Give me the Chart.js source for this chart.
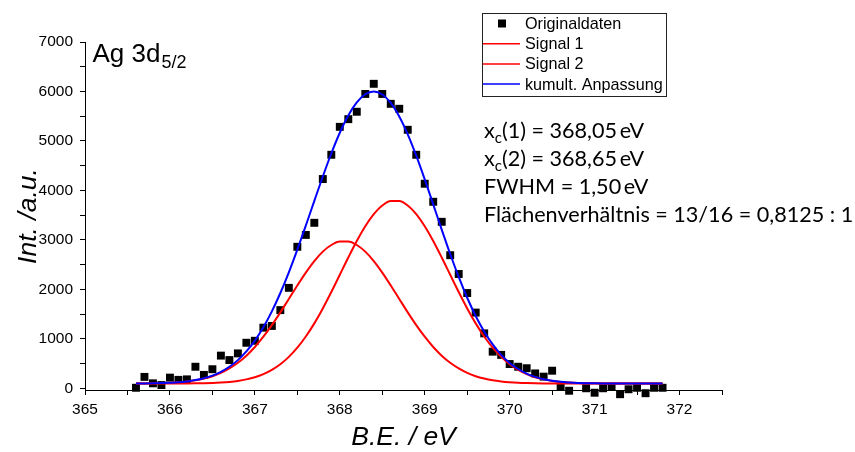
<!DOCTYPE html>
<html>
<head>
<meta charset="utf-8">
<script src="https://cdn.jsdelivr.net/npm/chart.js@4.4.1/dist/chart.umd.min.js"></script>
<style>
  html, body { margin: 0; padding: 0; background: #fff; }
</style>
</head>
<body>
<canvas id="xps" width="855" height="452"></canvas>
<script>
// binding energy grid (eV)
const energy = [365.6, 365.7, 365.8, 365.9, 366.0, 366.1, 366.2, 366.3, 366.4, 366.5,
  366.6, 366.7, 366.8, 366.9, 367.0, 367.1, 367.2, 367.3, 367.4, 367.5,
  367.6, 367.7, 367.8, 367.9, 368.0, 368.1, 368.2, 368.3, 368.4, 368.5,
  368.6, 368.7, 368.8, 368.9, 369.0, 369.1, 369.2, 369.3, 369.4, 369.5,
  369.6, 369.7, 369.8, 369.9, 370.0, 370.1, 370.2, 370.3, 370.4, 370.5,
  370.6, 370.7, 370.8, 370.9, 371.0, 371.1, 371.2, 371.3, 371.4, 371.5,
  371.6, 371.7, 371.8];

// measured intensity
const counts = [10, 230, 100, 65, 215, 170, 180, 435, 270, 385,
  660, 570, 705, 920, 960, 1225, 1260, 1580, 2030, 2860,
  3100, 3345, 4230, 4720, 5285, 5440, 5590, 5950, 6155, 5950,
  5750, 5650, 5225, 4720, 4135, 3770, 3365, 2690, 2310, 1925,
  1530, 1110, 740, 675, 490, 435, 405, 300, 235, 355,
  30, -50, -170, 0, -90, 0, 30, -120, -20, 10,
  -100, 10, 10];

// fitted components
const signal1 = [97, 98, 101, 105, 111, 121, 137, 161, 196, 244,
  311, 400, 515, 659, 835, 1042, 1277, 1535, 1806, 2079,
  2339, 2572, 2762, 2896, 2966, 2966, 2896, 2762, 2572, 2339,
  2079, 1806, 1535, 1277, 1042, 835, 659, 515, 400, 311,
  244, 196, 161, 137, 121, 111, 105, 101, 98, 97,
  96, 96, 95, 95, 95, 95, 95, 95, 95, 95,
  95, 95, 95];

const signal2 = [95, 95, 95, 95, 96, 96, 97, 99, 102, 107,
  116, 129, 149, 180, 224, 287, 373, 486, 634, 820,
  1046, 1312, 1614, 1945, 2294, 2644, 2978, 3277, 3521, 3694,
  3784, 3784, 3694, 3521, 3277, 2978, 2644, 2294, 1945, 1614,
  1312, 1046, 820, 634, 486, 373, 287, 224, 180, 149,
  129, 116, 107, 102, 99, 97, 96, 96, 95, 95,
  95, 95, 95];

const fitSum = [97, 98, 101, 105, 112, 122, 139, 165, 203, 256,
  332, 434, 569, 744, 964, 1234, 1555, 1926, 2345, 2804,
  3290, 3789, 4281, 4746, 5165, 5515, 5779, 5944, 5998, 5938,
  5768, 5495, 5134, 4703, 4224, 3718, 3208, 2714, 2250, 1830,
  1461, 1147, 886, 676, 512, 389, 297, 230, 183, 151,
  130, 117, 107, 102, 99, 97, 96, 96, 95, 95,
  95, 95, 95];

// labelled ticks, plus unlabelled minor ticks between them
const xTickLabels = [365, 366, 367, 368, 369, 370, 371, 372];
const xMinorTicks = [365.5, 366.5, 367.5, 368.5, 369.5, 370.5, 371.5, 372.5];
const yTickLabels = [0, 1000, 2000, 3000, 4000, 5000, 6000, 7000];
const yMinorTicks = [500, 1500, 2500, 3500, 4500, 5500, 6500];

const SANS = '"Liberation Sans", Arial, sans-serif';
const TEXT2 = 'Lato, "Open Sans", sans-serif';

function pts(ys) {
  return energy.map((x, i) => ({ x: x, y: ys[i] }));
}

function tickList(major, minor) {
  return major.concat(minor).sort((a, b) => a - b).map(v => ({ value: v }));
}

// legend box + annotations drawn on top of the plot
const overlay = {
  id: 'overlay',
  afterDraw(chart) {
    const ctx = chart.ctx;
    ctx.save();

    // legend
    ctx.strokeStyle = '#222';
    ctx.lineWidth = 1;
    ctx.strokeRect(482.5, 13.5, 184, 83);
    ctx.font = '16.2px ' + SANS;
    ctx.textBaseline = 'middle';
    ctx.textAlign = 'left';
    chart.data.datasets.forEach((ds, i) => {
      const y = 23.5 + i * 20.2;
      if (ds.showLine === false) {
        ctx.fillStyle = ds.backgroundColor;
        ctx.fillRect(498, y - 4, 8, 8);
      } else {
        ctx.strokeStyle = ds.borderColor;
        ctx.lineWidth = 1.5;
        ctx.beginPath();
        ctx.moveTo(483, y);
        ctx.lineTo(520, y);
        ctx.stroke();
      }
      ctx.fillStyle = '#000';
      ctx.fillText(ds.label, 525, y + 1);
    });

    // peak label
    ctx.textBaseline = 'alphabetic';
    ctx.fillStyle = '#000';
    ctx.font = '26px ' + SANS;
    ctx.fillText('Ag 3d', 92.5, 61.5);
    const w = ctx.measureText('Ag 3d').width;
    ctx.font = '18px ' + SANS;
    ctx.fillText('5/2', 92.5 + w + 1, 67.5);

    // fit parameters
    const lines = [
      [['x', 0], ['c', 1], ['(1) = 368,05\u2009eV', 0]],
      [['x', 0], ['c', 1], ['(2) = 368,65\u2009eV', 0]],
      [['FWHM = 1,50\u2009eV', 0]],
      [['Flächenverhältnis = 13/16 = 0,8125 : 1', 0]]
    ];
    lines.forEach((parts, i) => {
      let x = 484;
      const y = 137.5 + i * 28.2;
      parts.forEach(([t, sub]) => {
        ctx.font = (sub ? '15px ' : '21.6px ') + TEXT2;
        ctx.fillText(t, x, sub ? y + 5 : y);
        x += ctx.measureText(t).width;
      });
    });
    ctx.restore();
  }
};

new Chart(document.getElementById('xps'), {
  type: 'scatter',
  data: {
    datasets: [
      {
        label: 'Originaldaten',
        data: pts(counts),
        showLine: false,
        pointStyle: 'rect',
        pointRadius: 5.6,
        pointBorderWidth: 0,
        backgroundColor: '#000',
        borderColor: '#000',
        clip: false,
        order: 4
      },
      {
        label: 'Signal 1',
        data: pts(signal1),
        showLine: true,
        borderColor: '#ff0000',
        borderWidth: 2,
        pointRadius: 0,
        cubicInterpolationMode: 'monotone',
        order: 3
      },
      {
        label: 'Signal 2',
        data: pts(signal2),
        showLine: true,
        borderColor: '#ff0000',
        borderWidth: 2,
        pointRadius: 0,
        cubicInterpolationMode: 'monotone',
        order: 2
      },
      {
        label: 'kumult. Anpassung',
        data: pts(fitSum),
        showLine: true,
        borderColor: '#0000ff',
        borderWidth: 2,
        pointRadius: 0,
        cubicInterpolationMode: 'monotone',
        order: 1
      }
    ]
  },
  options: {
    responsive: false,
    animation: false,
    layout: { padding: { top: 42, right: 133, bottom: 0, left: 0 } },
    plugins: {
      legend: { display: false },
      tooltip: { enabled: false }
    },
    scales: {
      x: {
        type: 'linear',
        min: 365,
        max: 372.5,
        border: { color: '#000', width: 1 },
        grid: { drawOnChartArea: false, tickLength: 5, tickColor: '#000' },
        afterBuildTicks: s => { s.ticks = tickList(xTickLabels, xMinorTicks); },
        ticks: {
          autoSkip: false,
          maxRotation: 0,
          padding: 5,
          color: '#000',
          font: { family: SANS, size: 15.5 },
          callback: v => xTickLabels.includes(v) ? String(v) : ''
        },
        title: {
          display: true,
          text: 'B.E. / eV',
          color: '#000',
          font: { family: SANS, size: 26.5, style: 'italic', lineHeight: 1 },
          padding: { top: 0, bottom: 1 }
        },
        afterFit: s => { s.height = 62; }
      },
      y: {
        type: 'linear',
        min: -35,
        max: 7000,
        border: { color: '#000', width: 1 },
        grid: { drawOnChartArea: false, tickLength: 5, tickColor: '#000' },
        afterBuildTicks: s => { s.ticks = tickList(yTickLabels, yMinorTicks); },
        ticks: {
          autoSkip: false,
          padding: 7,
          color: '#000',
          font: { family: SANS, size: 15.5 },
          callback: v => yTickLabels.includes(v) ? String(v) : ''
        },
        title: {
          display: true,
          text: 'Int. /a.u.',
          color: '#000',
          font: { family: SANS, size: 26.5, style: 'italic', lineHeight: 1 },
          padding: { top: 15, bottom: 0 }
        },
        afterFit: s => { s.width = 85; }
      }
    }
  },
  plugins: [overlay]
});
</script>
</body>
</html>
